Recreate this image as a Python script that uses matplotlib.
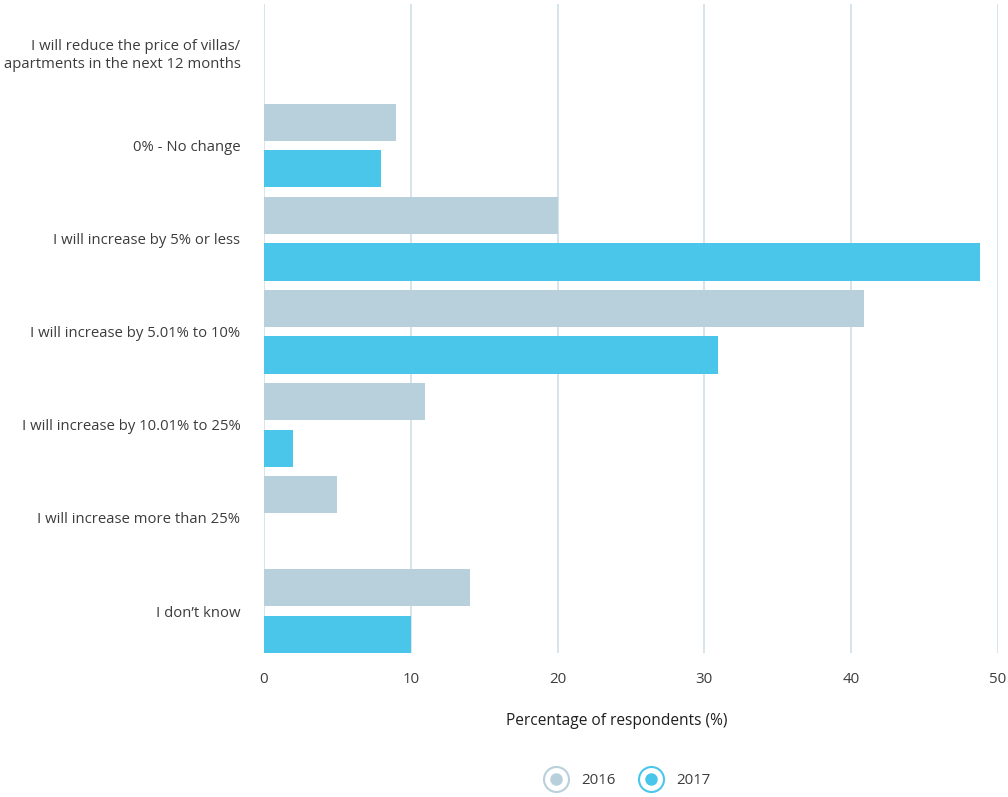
import matplotlib
matplotlib.use("Agg")
import matplotlib.pyplot as plt
from matplotlib.lines import Line2D
from matplotlib.legend_handler import HandlerTuple
from matplotlib.transforms import ScaledTranslation
import numpy as np

categories = [
    "I will reduce the price of villas/\napartments in the next 12 months",
    "0% - No change",
    "I will increase by 5% or less",
    "I will increase by 5.01% to 10%",
    "I will increase by 10.01% to 25%",
    "I will increase more than 25%",
    "I don\u2019t know",
]
values_2016 = [0, 9, 20, 40.9, 11, 5, 14]
values_2017 = [0, 8, 48.8, 30.9, 2, 0, 10]
series_names = ["2016", "2017"]
x_ticks = [0, 10, 20, 30, 40, 50]

c2016 = "#B8CFDC"
c2017 = "#49C6E9"
grid_c = "#CFDFE8"
text_c = "#3C3C3C"

plt.rcParams['font.family'] = ['Open Sans', 'DejaVu Sans']

fig = plt.figure(figsize=(10.08, 7.97), dpi=100)
ax = fig.add_axes([264/1008, 1 - 653/797, (998-264)/1008, (653-4)/797])

y = np.arange(len(categories))
ax.barh(y - 0.25, values_2016, height=0.4, color=c2016, zorder=3)
ax.barh(y + 0.25, values_2017, height=0.4, color=c2017, zorder=3)

ax.set_xlim(0, 50)
ax.set_ylim(6.45, -0.52)
ax.set_xticks(x_ticks)
ax.set_xticklabels([str(t) for t in x_ticks], color=text_c, fontsize=10.8)
ax.set_yticks(y)
ax.set_yticklabels(categories, color=text_c, fontsize=10.7, linespacing=1.25)
shift = ScaledTranslation(0, 3/72, fig.dpi_scale_trans)
for lbl in ax.get_yticklabels():
    lbl.set_transform(lbl.get_transform() + shift)
ax.tick_params(axis='both', length=0)
ax.tick_params(axis='y', pad=17)
ax.tick_params(axis='x', pad=14)
for s in ax.spines.values():
    s.set_visible(False)
ax.xaxis.grid(True, color=grid_c, linewidth=1.2, zorder=0)
ax.set_axisbelow(True)

fig.text(617/1008, 1 - 721/797, "Percentage of respondents (%)", ha='center', va='center',
         fontsize=11.2, color="#1E1E1E")

handles = []
for c in [c2016, c2017]:
    outer = Line2D([], [], marker='o', linestyle='None', markersize=18,
                   markerfacecolor='white', markeredgecolor=c, markeredgewidth=1.5)
    inner = Line2D([], [], marker='o', linestyle='None', markersize=8,
                   markerfacecolor=c, markeredgecolor=c)
    handles.append((outer, inner))
leg = fig.legend(handles, series_names, loc='center', bbox_to_anchor=(628/1008, 1 - 781/797),
                 ncol=2, frameon=False, fontsize=10.8,
                 handler_map={tuple: HandlerTuple(ndivide=1, pad=0)},
                 handlelength=1.4, columnspacing=1.6, handletextpad=1.0)
for t in leg.get_texts():
    t.set_color(text_c)

fig.savefig("out.png", dpi=100)
